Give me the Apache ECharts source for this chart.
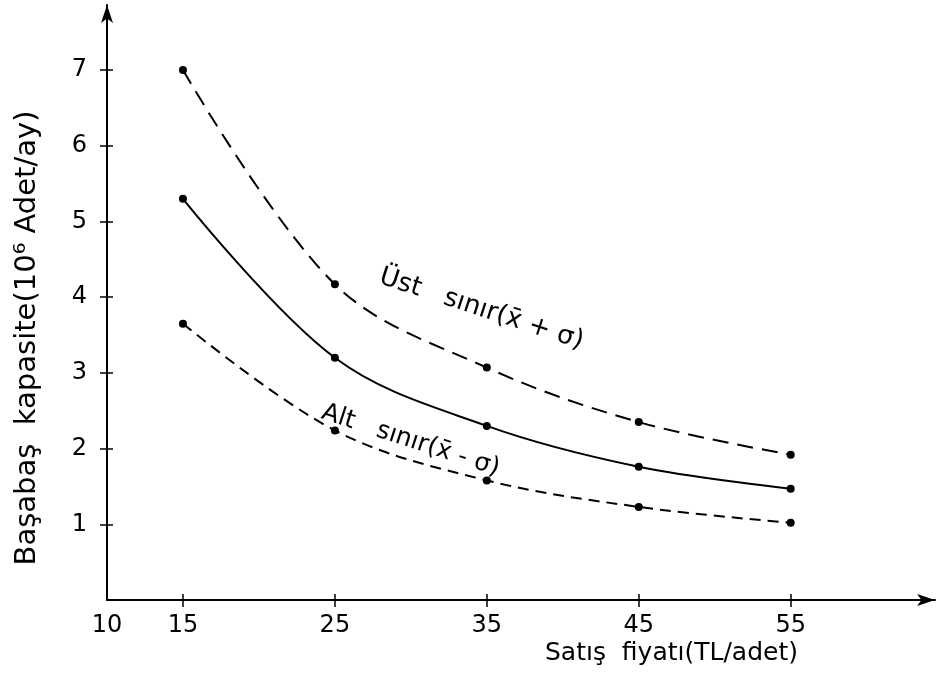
<!DOCTYPE html>
<html><head><meta charset="utf-8">
<script src="https://cdn.jsdelivr.net/npm/echarts@6/dist/echarts.min.js"></script>
<style>html,body{margin:0;padding:0;background:#fff}#c{width:937px;height:678px}</style>
</head><body><div id="c"></div>
<script>
const prices = [15, 25, 35, 45, 55];
const upper = [7.0, 4.17, 3.07, 2.35, 1.92];
const mean = [5.3, 3.2, 2.3, 1.76, 1.47];
const lower = [3.65, 2.24, 1.58, 1.23, 1.02];
const xTickLabels = [10, 15, 25, 35, 45, 55];
const xTicks = [15, 25, 35, 45, 55];
const yTicks = [1, 2, 3, 4, 5, 6, 7];
const FONT = '"DejaVu Sans",sans-serif';

const pts = a => prices.map((x, i) => [x, a[i]]);
const chart = echarts.init(document.getElementById('c'));
function ser(data, type) {
  return {
    type: 'line', data: pts(data), smooth: 0.35, symbol: 'circle', symbolSize: 8,
    itemStyle: {color: '#000'},
    lineStyle: {color: '#000', width: 2, type: type},
    z: 3
  };
}
const tickStyle = {color: '#000', width: 1.5};
const rot = -18 * Math.PI / 180;
chart.setOption({
  animation: false,
  grid: {left: 107, right: 2, top: 5, bottom: 78},
  xAxis: [{
    type: 'value', min: 10, max: 64.5,
    axisLine: {lineStyle: {color: '#000', width: 2}, symbol: ['none', 'arrow'], symbolSize: [9, 18]},
    axisTick: {length: 7, customValues: xTicks, lineStyle: tickStyle},
    axisLabel: {customValues: xTickLabels, color: '#000', fontSize: 24, fontFamily: FONT, margin: 14},
    splitLine: {show: false}
  }, {
    type: 'value', min: 10, max: 64.5, position: 'bottom',
    axisLine: {show: false},
    axisTick: {show: true, inside: true, length: 6, customValues: xTicks, lineStyle: tickStyle},
    axisLabel: {show: false}, splitLine: {show: false}
  }],
  yAxis: [{
    type: 'value', min: 0, max: 7.86,
    axisLine: {lineStyle: {color: '#000', width: 2}, symbol: ['none', 'arrow'], symbolSize: [9, 18]},
    axisTick: {length: 7, customValues: yTicks, lineStyle: tickStyle},
    axisLabel: {customValues: yTicks, color: '#000', fontSize: 24, fontFamily: FONT, margin: 20},
    splitLine: {show: false}
  }, {
    type: 'value', min: 0, max: 7.86, position: 'left',
    axisLine: {show: false},
    axisTick: {show: true, inside: true, length: 6, customValues: yTicks, lineStyle: tickStyle},
    axisLabel: {show: false}, splitLine: {show: false}
  }],
  series: [ser(upper, [16, 9]), ser(mean, 'solid'), ser(lower, [11, 7])],
  graphic: [
    {type: 'text', x: 27, y: 338, rotation: Math.PI / 2,
     style: {text: 'Başabaş  kapasite(10⁶ Adet/ay)', font: '29px ' + FONT, fill: '#000', align: 'center', verticalAlign: 'middle'}},
    {type: 'text', left: 545, top: 641, style: {text: 'Satış  fiyatı(TL/adet)', font: '25px ' + FONT, fill: '#000'}},
    {type: 'text', x: 384, y: 264, rotation: rot, style: {text: 'Üst   sınır(x̄ + σ)', font: '26px ' + FONT, fill: '#000'}},
    {type: 'text', x: 326, y: 400, rotation: rot, style: {text: 'Alt   sınır(x̄ - σ)', font: '25px ' + FONT, fill: '#000'}}
  ]
});
</script></body></html>
